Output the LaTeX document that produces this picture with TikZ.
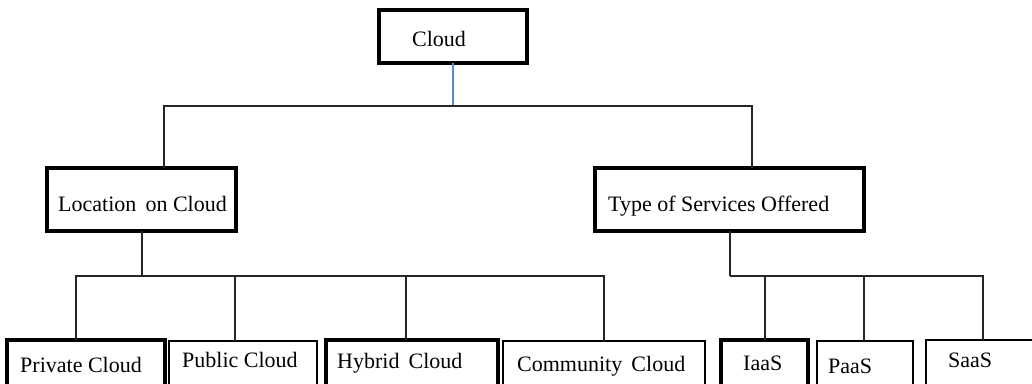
\documentclass[tikz,border=0pt]{standalone}
\usepackage{fontspec}
\setmainfont{Liberation Serif}
\definecolor{linkblue}{RGB}{91,140,205}
\begin{document}
\begin{tikzpicture}[x=1pt,y=-1pt,
  boxthick/.style={draw=black, line width=3.2pt, anchor=north west, inner sep=0pt, outer sep=0pt, fill=white},
  boxthin/.style={draw=black, line width=2.4pt, anchor=north west, inner sep=0pt, outer sep=0pt, fill=white},
  lbl/.style={anchor=base west, inner sep=0pt, font=\fontsize{22}{25}\selectfont},
  conn/.style={draw=black!85, line width=1.4pt},
  blueconn/.style={draw=linkblue, line width=1.4pt}]
\clip (0,0) rectangle (1032,383);
\fill[white] (0,0) rectangle (1032,383);
% boxes
\node[boxthick, minimum width=148pt, minimum height=53pt] (cloud) at (379,10) {};
\node[boxthick, minimum width=189pt, minimum height=63pt] (loc) at (47,168) {};
\node[boxthick, minimum width=269pt, minimum height=63pt] (type) at (595,168) {};
\node[boxthick, minimum width=158pt, minimum height=60pt] (priv) at (7,340) {};
\node[boxthin, minimum width=148pt, minimum height=60pt] (pub) at (169,341) {};
\node[boxthick, minimum width=172pt, minimum height=60pt] (hyb) at (326,340) {};
\node[boxthin, minimum width=202pt, minimum height=60pt] (comm) at (503,341) {};
\node[boxthick, minimum width=87pt, minimum height=60pt] (iaas) at (721,340) {};
\node[boxthin, minimum width=96pt, minimum height=60pt] (paas) at (817,341) {};
\node[boxthin, minimum width=110pt, minimum height=60pt] (saas) at (926,340) {};
% labels
\node[lbl] (tcloud) at (412,46) {Cloud};
\node[lbl] (tloc) at (58,211) {Location\, on Cloud};
\node[lbl] (ttype) at (608,211) {Type of Services Offered};
\node[lbl] (tpriv) at (20,372) {Private Cloud};
\node[lbl] (tpub) at (182,367) {Public Cloud};
\node[lbl] (thyb) at (337,368) {Hybrid\, Cloud};
\node[lbl] (tcomm) at (517,371) {Community\, Cloud};
\node[lbl] (tiaas) at (743,370) {IaaS};
\node[lbl] (tpaas) at (828,373) {PaaS};
\node[lbl] (tsaas) at (948,367) {SaaS};
% junction coordinates
\coordinate (h0) at (453,106);
\coordinate (h1) at (164,106);
\coordinate (h2) at (752,106);
\coordinate (j0) at (142,276);
\coordinate (j1) at (76,276);
\coordinate (j2) at (235,276);
\coordinate (j3) at (406,276);
\coordinate (j4) at (604,276);
\coordinate (k0) at (730,276);
\coordinate (k1) at (765,276);
\coordinate (k2) at (864,276);
\coordinate (k3) at (983,276);
% connectors
\draw[blueconn] (cloud.south) -- (cloud.south |- h0);
\draw[conn] (loc.north -| h1) -- (h1) -- (h2) -- (type.north -| h2);
\draw[conn] (loc.south -| j0) -- (j0);
\draw[conn] (priv.north -| j1) -- (j1) -- (j4) -- (comm.north -| j4);
\draw[conn] (j2) -- (pub.north -| j2);
\draw[conn] (j3) -- (hyb.north -| j3);
\draw[conn] (type.south -| k0) -- (k0);
\draw[conn] (k0) -- (k3) -- (saas.north -| k3);
\draw[conn] (k1) -- (iaas.north -| k1);
\draw[conn] (k2) -- (paas.north -| k2);
\end{tikzpicture}
\end{document}
